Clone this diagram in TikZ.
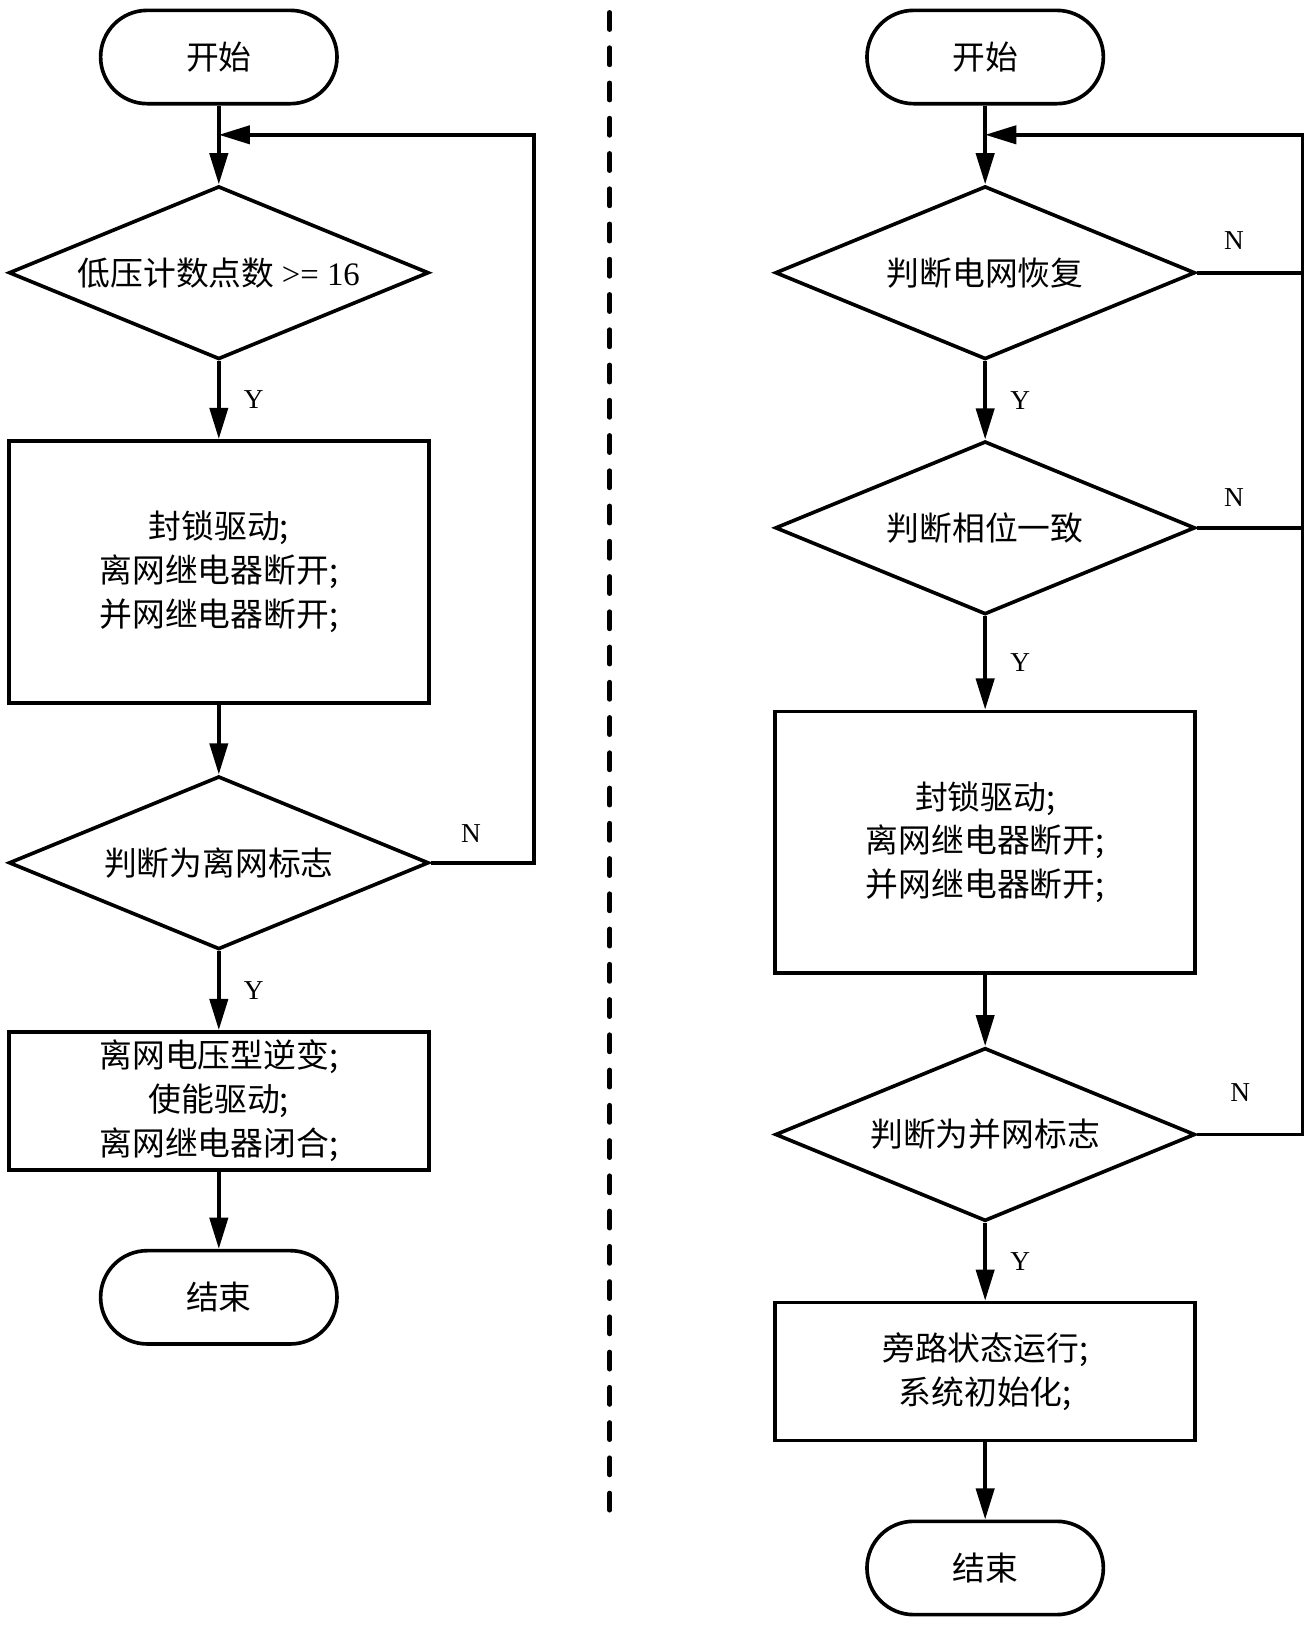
\documentclass[tikz,border=0pt]{standalone}
\usepackage{fontspec}
\setmainfont{Liberation Serif}
\newfontfamily\cjk{Noto Sans CJK SC}
\usetikzlibrary{shapes, arrows.meta, positioning, calc}

\tikzset{
  txt/.style={font=\cjk\fontsize{18pt}{24pt}\selectfont},
  startstop/.style={draw, txt, rounded corners=0.9cm,
                    minimum width=4.56cm, minimum height=1.8cm},
  decision/.style={draw, txt, diamond, aspect=2.4, inner sep=0pt,
                   minimum width=8.1cm, minimum height=3.34cm},
  process/.style={draw, txt, rectangle, align=center, inner sep=2pt,
                  minimum width=8.1cm},
  flow/.style={-{Triangle[length=0.6cm, width=0.35cm]}},
  lbl/.style={inner sep=0pt, font=\fontsize{15pt}{18pt}\selectfont},
}

\begin{document}
\begin{tikzpicture}[x=0.02cm, y=-0.02cm, line width=2pt]
  \useasboundingbox (0,0) rectangle (1265,1567);

  % left flow
  \node[startstop] (startL) at (211,55) {开始};
  \node[decision] (chkVolt) at (211,263) {低压计数点数 \rmfamily>= 16};
  \node[process, minimum height=5.06cm] (lockL) at (211,551.5)
    {封锁驱动;\\离网继电器断开;\\并网继电器断开;};
  \node[decision] (chkOff) at (211,832) {判断为离网标志};
  \node[process, minimum height=2.66cm] (runOff) at (211,1061.5)
    {离网电压型逆变;\\使能驱动;\\离网继电器闭合;};
  \node[startstop] (endL) at (211,1251) {结束};
  \coordinate (joinL) at (211,130);
  \coordinate (loopL) at (515,130);

  \draw[flow] (startL) -- (chkVolt);
  \draw[flow] (chkVolt) -- node[lbl, right=0.45cm] {Y} (lockL);
  \draw[flow] (lockL) -- (chkOff);
  \draw[flow] (chkOff) -- node[lbl, right=0.45cm] {Y} (runOff);
  \draw[flow] (runOff) -- (endL);
  \draw[flow] (chkOff.east) -- node[lbl, pos=0.39, above=0.36cm] {N}
    (chkOff.east -| loopL) -- (loopL) -- (joinL);

  % separator
  \draw[line width=2.6pt, line cap=round, dash pattern=on 0.33cm off 0.35cm]
    (588,12) -- (588,1460);

  % right flow
  \node[startstop] (startR) at (950,55) {开始};
  \node[decision] (chkGrid) at (950,263) {判断电网恢复};
  \node[decision] (chkPhase) at (950,509) {判断相位一致};
  \node[process, minimum height=5.04cm] (lockR) at (950,812)
    {封锁驱动;\\离网继电器断开;\\并网继电器断开;};
  \node[decision] (chkOn) at (950,1094) {判断为并网标志};
  \node[process, minimum height=2.66cm] (bypass) at (950,1322.5)
    {旁路状态运行;\\系统初始化;};
  \node[startstop] (endR) at (950,1512) {结束};
  \coordinate (joinR) at (950,130);
  \coordinate (loopR) at (1256,130);

  \draw[flow] (startR) -- (chkGrid);
  \draw[flow] (chkGrid) -- node[lbl, right=0.45cm] {Y} (chkPhase);
  \draw[flow] (chkPhase) -- node[lbl, right=0.45cm] {Y} (lockR);
  \draw[flow] (lockR) -- (chkOn);
  \draw[flow] (chkOn) -- node[lbl, right=0.45cm] {Y} (bypass);
  \draw[flow] (bypass) -- (endR);
  \draw (chkGrid.east) -- node[lbl, pos=0.35, above=0.42cm] {N}
    (chkGrid.east -| loopR);
  \draw (chkPhase.east) -- node[lbl, pos=0.35, above=0.38cm] {N}
    (chkPhase.east -| loopR);
  \draw[flow] (chkOn.east) -- node[lbl, pos=0.41, above=0.6cm] {N}
    (chkOn.east -| loopR) -- (loopR) -- (joinR);
\end{tikzpicture}
\end{document}
